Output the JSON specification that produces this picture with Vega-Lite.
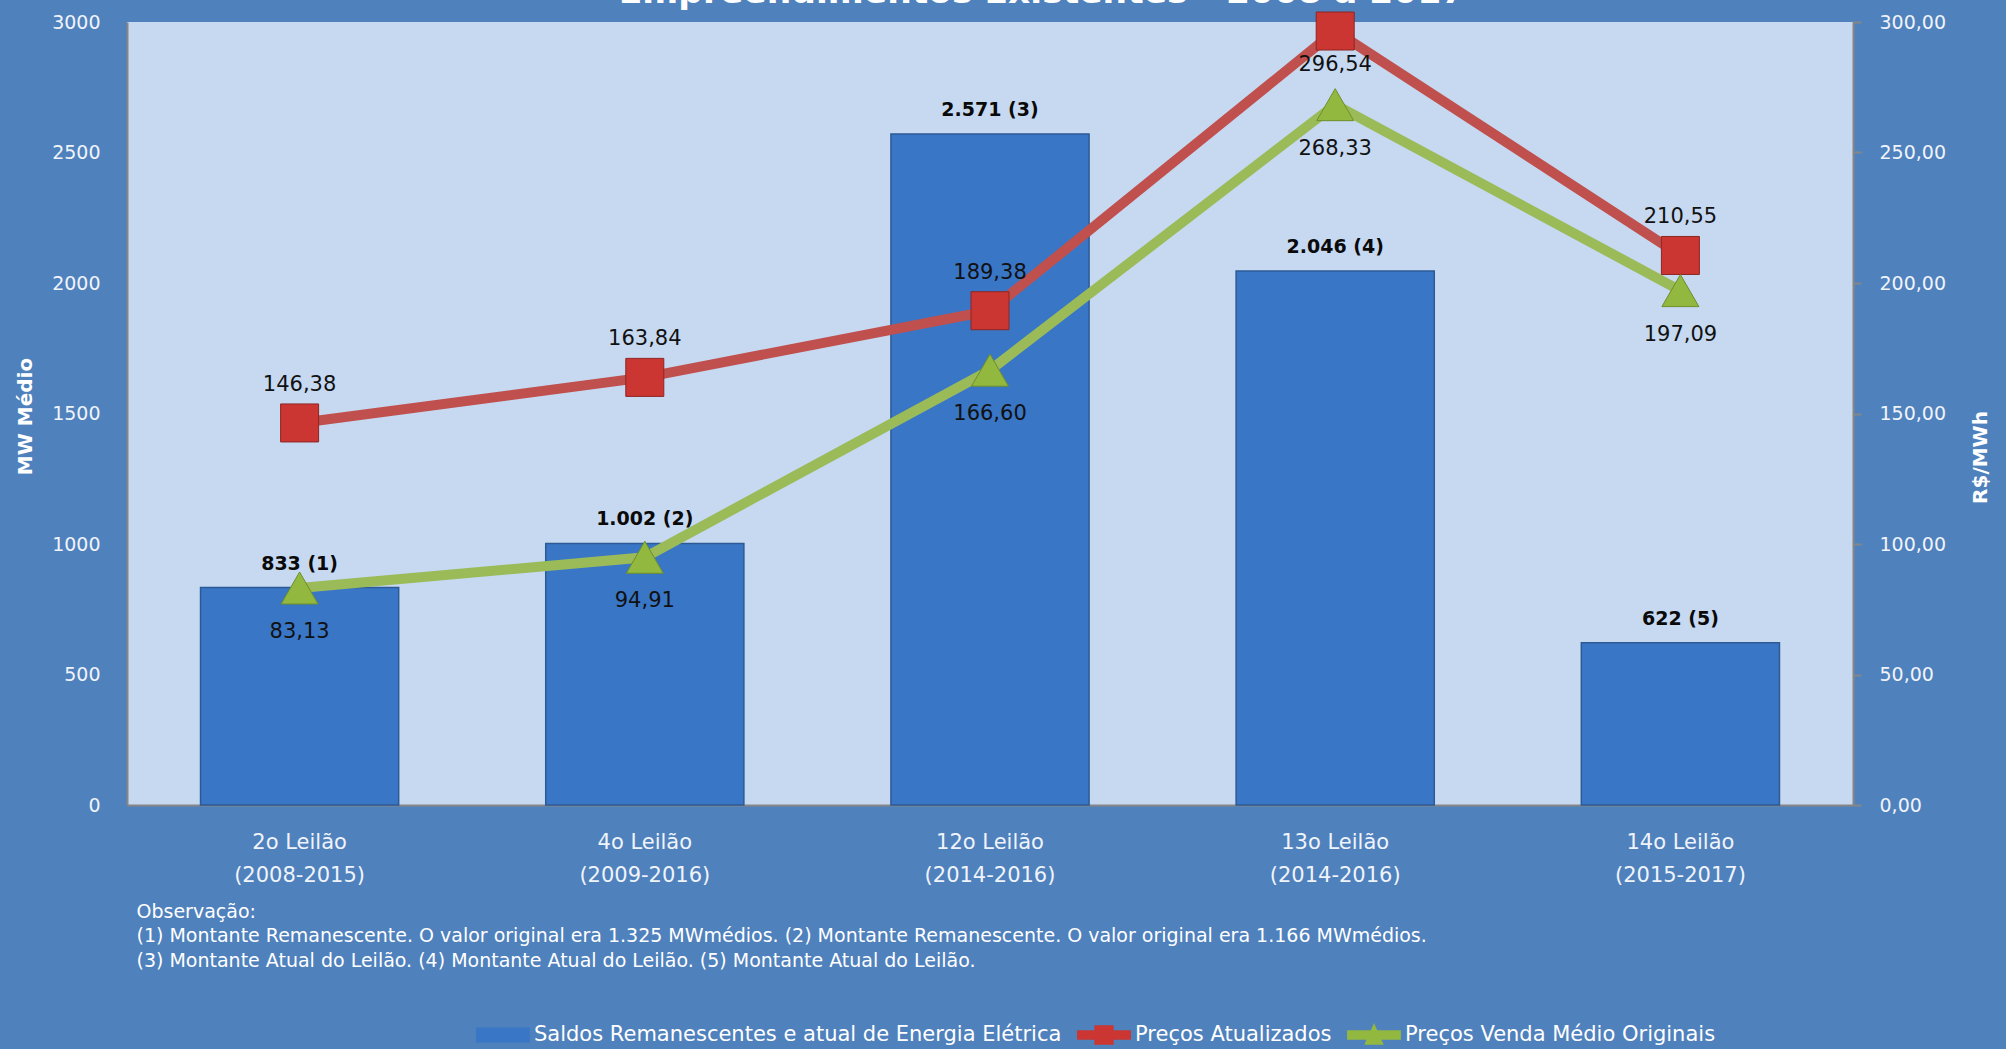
{
  "$schema": "https://vega.github.io/schema/vega-lite/v6.json",
  "width": 2006,
  "height": 1049,
  "autosize": {"type": "fit", "contains": "padding"},
  "padding": {"left": 15, "top": -23, "right": 16, "bottom": 79},
  "background": "#4F81BD",
  "config": {
    "locale": {"number": {"decimal": ",", "thousands": ".", "grouping": [3], "currency": ["R$ ", ""]}},
    "view": {"fill": "#C6D9F1", "stroke": null},
    "font": "DejaVu Sans",
    "axis": {"grid": false, "domainColor": "#868686", "domainWidth": 2, "labelColor": "#F0F4FA", "labelFont": "DejaVu Sans", "labelFontSize": 19, "titleColor": "#FFFFFF", "titleFont": "DejaVu Sans", "titleFontSize": 20, "titleFontWeight": "bold"},
    "legend": {
      "orient": "none", "legendX": 349, "legendY": 986, "direction": "horizontal",
      "labelColor": "#FFFFFF", "labelFont": "DejaVu Sans", "labelFontSize": 21, "labelLimit": 800, "labelOffset": 4,
      "symbolSize": 2900, "columnPadding": 15, "symbolStrokeWidth": 0, "symbolOpacity": 1
    }
  },
  "title": {"text": "Empreendimentos Existentes - 2008 a 2017", "color": "#FFFFFF", "font": "DejaVu Sans", "fontSize": 34.5, "fontWeight": "bold", "anchor": "middle", "frame": "group", "dx": 52, "offset": -27, "baseline": "alphabetic"},
  "data": {"values": [
    {"leilao": "2o Leilão (2008-2015)", "mw": 833, "rotulo": "833 (1)", "Preços Atualizados": 146.38, "Preços Venda Médio Originais": 83.13},
    {"leilao": "4o Leilão (2009-2016)", "mw": 1002, "rotulo": "1.002 (2)", "Preços Atualizados": 163.84, "Preços Venda Médio Originais": 94.91},
    {"leilao": "12o Leilão (2014-2016)", "mw": 2571, "rotulo": "2.571 (3)", "Preços Atualizados": 189.38, "Preços Venda Médio Originais": 166.60},
    {"leilao": "13o Leilão (2014-2016)", "mw": 2046, "rotulo": "2.046 (4)", "Preços Atualizados": 296.54, "Preços Venda Médio Originais": 268.33},
    {"leilao": "14o Leilão (2015-2017)", "mw": 622, "rotulo": "622 (5)", "Preços Atualizados": 210.55, "Preços Venda Médio Originais": 197.09}
  ]},
  "encoding": {
    "x": {
      "field": "leilao", "type": "nominal", "sort": null,
      "scale": {"paddingInner": 0.426, "paddingOuter": 0.213},
      "axis": {
        "labelAngle": 0, "ticks": false, "tickSize": 0, "labelPadding": 37, "labelBaseline": "middle", "labelLineHeight": 33, "labelFontSize": 21,
        "labelExpr": "[substring(datum.label, 0, indexof(datum.label, ' (')), substring(datum.label, indexof(datum.label, ' (') + 1)]",
        "title": ["Observação:", "(1) Montante  Remanescente. O valor original era 1.325 MWmédios. (2) Montante  Remanescente. O  valor original era 1.166 MWmédios.", "(3) Montante  Atual do Leilão. (4) Montante Atual do Leilão. (5) Montante Atual do Leilão."],
        "titleX": 9, "titleY": 97, "titleAlign": "left", "titleAnchor": "start", "titleBaseline": "top", "titleLineHeight": 24.5,
        "titleFont": "DejaVu Sans", "titleFontSize": 19, "titleFontWeight": "normal", "titleColor": "#FFFFFF"
      }
    }
  },
  "layer": [
    {
      "encoding": {
        "y": {
          "field": "mw", "type": "quantitative",
          "scale": {"domain": [0, 3000], "nice": false},
          "axis": {"orient": "left", "values": [0, 500, 1000, 1500, 2000, 2500, 3000], "format": "d", "ticks": false, "labelPadding": 27,
            "title": "MW Médio", "titleX": -102, "titleY": 394, "titleAngle": -90, "titleAlign": "center", "titleBaseline": "middle"}
        }
      },
      "layer": [
        {
          "mark": {"type": "bar", "fill": "#3976C6", "stroke": "#2C5A95", "strokeWidth": 1.5}
        },
        {
          "mark": {"type": "text", "dy": -24, "baseline": "middle", "align": "center", "font": "DejaVu Sans", "fontSize": 19, "fontWeight": "bold", "color": "#0A0A0A"},
          "encoding": {"text": {"field": "rotulo"}}
        }
      ]
    },
    {
      "transform": [{"fold": ["Preços Atualizados", "Preços Venda Médio Originais"], "as": ["serie", "preco"]}],
      "encoding": {
        "y": {
          "field": "preco", "type": "quantitative",
          "scale": {"domain": [0, 300], "nice": false},
          "axis": {"orient": "right", "values": [0, 50, 100, 150, 200, 250, 300], "format": ".2f", "ticks": true, "tickColor": "#868686", "tickSize": 8, "tickWidth": 2, "labelPadding": 18,
            "title": "R$/MWh", "titleX": 127, "titleY": 435, "titleAngle": -90, "titleAlign": "center", "titleBaseline": "middle"}
        }
      },
      "layer": [
        {
          "transform": [{"filter": "datum.serie === 'Preços Atualizados'"}],
          "mark": {"type": "line", "strokeWidth": 10, "color": "#C0504D"}
        },
        {
          "transform": [{"filter": "datum.serie === 'Preços Venda Médio Originais'"}],
          "mark": {"type": "line", "strokeWidth": 10, "color": "#9BBB59"}
        },
        {
          "transform": [{"filter": "datum.serie === 'Preços Atualizados'"}],
          "mark": {"type": "point", "shape": "square", "size": 1444, "filled": true, "opacity": 1, "fill": "#CB3632", "stroke": "#8E2522", "strokeWidth": 1}
        },
        {
          "transform": [{"filter": "datum.serie === 'Preços Venda Médio Originais'"}],
          "mark": {"type": "point", "shape": "triangle-up", "size": 1369, "filled": true, "opacity": 1, "fill": "#92B840", "stroke": "#6E8E2A", "strokeWidth": 1}
        },
        {
          "transform": [{"filter": "datum.preco < 0"}],
          "mark": {"type": "point", "filled": true},
          "encoding": {
            "color": {
              "field": "serie", "type": "nominal",
              "scale": {"domain": ["Saldos Remanescentes e atual de Energia Elétrica", "Preços Atualizados", "Preços Venda Médio Originais"], "range": ["#3976C6", "#CB3632", "#92B840"]},
              "legend": {"title": null}
            },
            "shape": {
              "field": "serie", "type": "nominal",
              "scale": {"domain": ["Saldos Remanescentes e atual de Energia Elétrica", "Preços Atualizados", "Preços Venda Médio Originais"], "range": ["M-1,-0.28H1V0.28H-1Z", "M-1,-0.18H-0.36V-0.36H0.36V-0.18H1V0.18H0.36V0.36H-0.36V0.18H-1Z", "M-1,-0.18H-0.12L0,-0.45L0.12,-0.18H1V0.18H0.28L0.36,0.36H-0.36L-0.28,0.18H-1Z"]},
              "legend": {"title": null}
            }
          }
        },
        {
          "transform": [{"filter": "datum.serie === 'Preços Atualizados' && datum.leilao !== '13o Leilão (2014-2016)'"}],
          "mark": {"type": "text", "dy": -38, "baseline": "middle", "align": "center", "font": "DejaVu Sans", "fontSize": 21, "color": "#111111"},
          "encoding": {"text": {"field": "preco", "type": "quantitative", "format": ".2f"}}
        },
        {
          "transform": [{"filter": "datum.serie === 'Preços Atualizados' && datum.leilao === '13o Leilão (2014-2016)'"}],
          "mark": {"type": "text", "dy": 34, "baseline": "middle", "align": "center", "font": "DejaVu Sans", "fontSize": 21, "color": "#111111"},
          "encoding": {"text": {"field": "preco", "type": "quantitative", "format": ".2f"}}
        },
        {
          "transform": [{"filter": "datum.serie === 'Preços Venda Médio Originais'"}],
          "mark": {"type": "text", "dy": 44, "baseline": "middle", "align": "center", "font": "DejaVu Sans", "fontSize": 21, "color": "#111111"},
          "encoding": {"text": {"field": "preco", "type": "quantitative", "format": ".2f"}}
        }
      ]
    }
  ],
  "resolve": {"scale": {"y": "independent"}}
}
